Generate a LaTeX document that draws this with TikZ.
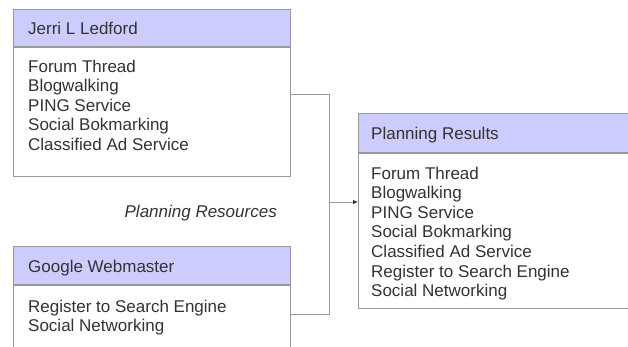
\documentclass[tikz,border=0pt]{standalone}
\usepackage{fontspec}
\setmainfont{Liberation Sans}
\usetikzlibrary{arrows.meta}
\definecolor{headfill}{HTML}{CCCCFF}
\definecolor{edgegray}{HTML}{999999}
\definecolor{inkgray}{HTML}{333333}
\begin{document}
\begin{tikzpicture}[x=1pt,y=-1pt,
  frame/.style={draw=edgegray,line width=0.8pt,anchor=north west,inner sep=0pt},
  head/.style={frame,fill=headfill},
  body/.style={frame,fill=white},
  lbl/.style={text=inkgray,font=\fontsize{17}{19.6}\selectfont,inner sep=0pt},
  list/.style={lbl,align=left,anchor=north west},
  title/.style={lbl,anchor=base west},
  link/.style={draw=edgegray,line width=0.8pt}]
\useasboundingbox (0,0) rectangle (628,347);
\clip (0,0) rectangle (628,347);

% sources
\node[head,minimum width=277pt,minimum height=37pt] (jerri) at (13,9) {};
\node[body,minimum width=277pt,minimum height=129pt] (jerriBody) at (jerri.south west) {};
\node[title] (jerriName) at (28,34.5) {Jerri L Ledford};
\node[list] (jerriList) at (28,59.5) {Forum Thread\\Blogwalking\\PING Service\\Social Bokmarking\\Classified Ad Service};

\node[head,minimum width=277pt,minimum height=38pt] (google) at (13,246) {};
\node[body,minimum width=277pt,minimum height=100pt] (googleBody) at (google.south west) {};
\node[title] (googleName) at (28,272) {Google Webmaster};
\node[list] (googleList) at (28,299.5) {Register to Search Engine\\Social Networking};

\node[lbl,font=\fontsize{17}{19.6}\selectfont\itshape,anchor=base east] (resources) at (277,218) {Planning Resources};

% result
\node[head,minimum width=300pt,minimum height=39pt] (results) at (358,113) {};
\node[body,minimum width=300pt,minimum height=155pt] (resultsBody) at (results.south west) {};
\node[title] (resultsName) at (371,140) {Planning Results};
\node[list] (resultsList) at (371,166.5) {Forum Thread\\Blogwalking\\PING Service\\Social Bokmarking\\Classified Ad Service\\Register to Search Engine\\Social Networking};

% connectors
\coordinate (join) at (329,202);
\draw[link] ([yshift=17.5pt]jerriBody.east) -| (join);
\draw[link] ([yshift=21pt]googleBody.east) -| (join);
\draw[link,-{Latex[length=5pt,width=4.5pt,color=black!80]}] (join) -- (join -| resultsBody.west);

\end{tikzpicture}
\end{document}
